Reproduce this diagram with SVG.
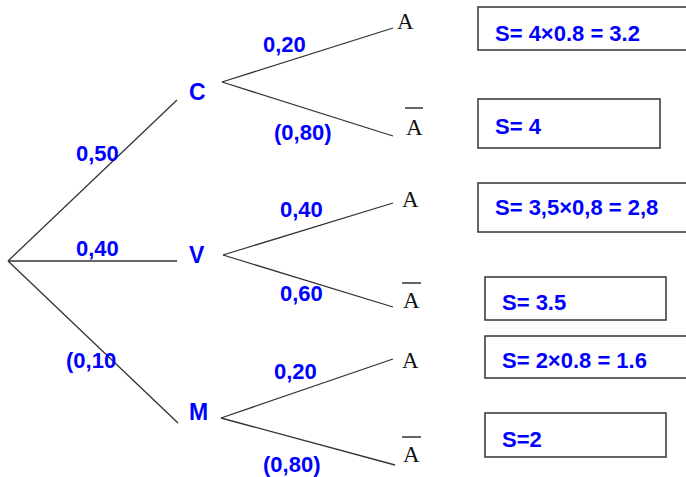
<svg xmlns="http://www.w3.org/2000/svg" width="686" height="477" viewBox="0 0 686 477">
<style>
.ln{stroke:#333;stroke-width:1.3;fill:none}
.lb{font-family:"Liberation Sans",Arial,sans-serif;font-weight:bold;font-size:22px;fill:#0000ff}
.nd{font-family:"Liberation Sans",Arial,sans-serif;font-weight:bold;font-size:23px;fill:#0000ff}
.ev{font-family:"Liberation Serif","Times New Roman",serif;font-size:23px;fill:#111}
.bar{stroke:#111;stroke-width:1.3}
.bx{fill:#fff;stroke:#333;stroke-width:1.5}
.bt{font-family:"Liberation Sans",Arial,sans-serif;font-weight:bold;font-size:22px;fill:#0000ff}
</style>
<rect width="686" height="477" fill="#fff"/>
<g id="connectors">
<line class="ln" x1="8" y1="261" x2="177" y2="100"/>
<line class="ln" x1="8" y1="261" x2="177" y2="261"/>
<line class="ln" x1="8" y1="261" x2="178" y2="423"/>
<line class="ln" x1="222" y1="82" x2="393" y2="28"/>
<line class="ln" x1="222" y1="82" x2="393" y2="136"/>
<line class="ln" x1="223" y1="255" x2="393" y2="203"/>
<line class="ln" x1="223" y1="255" x2="393" y2="307"/>
<line class="ln" x1="221" y1="418" x2="393" y2="359"/>
<line class="ln" x1="221" y1="418" x2="395" y2="465"/>
<text class="lb" x="76" y="161">0,50</text>
<text class="lb" x="76" y="256">0,40</text>
<text class="lb" x="66" y="368">(0,10</text>
<text class="lb" x="263" y="52">0,20</text>
<text class="lb" x="274" y="140">(0,80)</text>
<text class="lb" x="280" y="217">0,40</text>
<text class="lb" x="280" y="301">0,60</text>
<text class="lb" x="274" y="379">0,20</text>
<text class="lb" x="263" y="472">(0,80)</text>
</g>
<g id="node-root"></g>
<g id="node-C"><text class="nd" x="189" y="100">C</text></g>
<g id="node-V"><text class="nd" x="189" y="263">V</text></g>
<g id="node-M"><text class="nd" x="189" y="420">M</text></g>
<g id="leaf-CA"><text class="ev" x="397" y="29">A</text></g>
<g id="leaf-CAbar"><line class="bar" x1="405" y1="108" x2="423" y2="108"/><text class="ev" x="406" y="135">A</text></g>
<g id="leaf-VA"><text class="ev" x="402" y="207">A</text></g>
<g id="leaf-VAbar"><line class="bar" x1="402" y1="283" x2="421" y2="283"/><text class="ev" x="403" y="308">A</text></g>
<g id="leaf-MA"><text class="ev" x="402" y="368">A</text></g>
<g id="leaf-MAbar"><line class="bar" x1="402" y1="437" x2="421" y2="437"/><text class="ev" x="403" y="462">A</text></g>
<g id="box1"><rect class="bx" x="478" y="7" width="215" height="43"/><text class="bt" x="495" y="41">S= 4×0.8 = 3.2</text></g>
<g id="box2"><rect class="bx" x="478" y="99" width="182" height="49"/><text class="bt" x="495" y="134">S= 4</text></g>
<g id="box3"><rect class="bx" x="478" y="183" width="215" height="49"/><text class="bt" x="495" y="215">S= 3,5×0,8 = 2,8</text></g>
<g id="box4"><rect class="bx" x="485" y="277" width="181" height="43"/><text class="bt" x="502" y="310">S= 3.5</text></g>
<g id="box5"><rect class="bx" x="485" y="336" width="208" height="42"/><text class="bt" x="502" y="368">S= 2×0.8 = 1.6</text></g>
<g id="box6"><rect class="bx" x="485" y="413" width="181" height="44"/><text class="bt" x="502" y="447">S=2</text></g>
</svg>
